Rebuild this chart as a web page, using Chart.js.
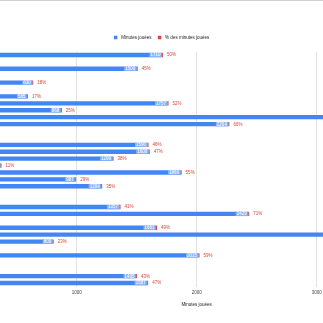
<!DOCTYPE html>
<html><head><meta charset="utf-8">
<script src="https://cdn.jsdelivr.net/npm/chart.js@4/dist/chart.umd.min.js"></script>
<style>
html,body{margin:0;padding:0;background:#fff;overflow:hidden;}
body{width:323px;height:323px;position:relative;}
#topline{position:absolute;left:0;top:0;width:323px;height:1px;background:#d0d0d0;z-index:2;}
#wrap{position:absolute;left:-60px;top:0;width:520px;height:323px;}
</style></head><body>
<div id="topline"></div>
<div id="wrap"><canvas id="c" width="520" height="323"></canvas></div>
<script>
// ---- data ----
const categories = [
  'Joueur 1','Joueur 2','Joueur 3','Joueur 4','Joueur 5','Joueur 6','Joueur 7','Joueur 8',
  'Joueur 9','Joueur 10','Joueur 11','Joueur 12','Joueur 13','Joueur 14','Joueur 15','Joueur 16',
  'Joueur 17','Joueur 18','Joueur 19','Joueur 20','Joueur 21','Joueur 22','Joueur 23','Joueur 24',
  'Joueur 25','Joueur 26','Joueur 27','Joueur 28','Joueur 29','Joueur 30','Joueur 31','Joueur 32',
  'Joueur 33','Joueur 34'
];
const minutes = [1710, null, 1500, null, 630, null, 585, 1757, 868, 3330, 2264, null, null, 1590, 1600, 1299,
  365, 1866, 987, 1204, null, null, 1357, 2429, null, 1661, 3300, 800, null, 2015, null, null, 1495, 1587];
const percent = [0.50, null, 0.45, null, 0.18, null, 0.17, 0.52, 0.25, 0.97, 0.66, null, null, 0.46, 0.47, 0.38,
  0.11, 0.55, 0.29, 0.35, null, null, 0.41, 0.71, null, 0.49, 0.96, 0.23, null, 0.59, null, null, 0.43, 0.47];
const xTicks = [0, 1000, 2000, 3000, 4000];
const seriesNames = ['Minutes jouées', '% des minutes jouées'];
const axisTitle = 'Minutes jouées';

// ---- style ----
const FONT = '"Liberation Sans", Arial, sans-serif';
const FS = 4.5;
const BLUE = '#4285f4';
const RED = '#db4437';
const CANVAS_OFFSET = 60;
const VIEW_W = 323;

const labelPlugin = {
  id: 'barLabels',
  afterDatasetsDraw(chart) {
    const ctx = chart.ctx;
    ctx.save();
    ctx.font = FS + 'px ' + FONT;
    ctx.textBaseline = 'middle';
    const m0 = chart.getDatasetMeta(0);
    m0.data.forEach((el, i) => {
      const v = minutes[i];
      if (v == null) return;
      const txt = String(v);
      const w = ctx.measureText(txt).width + 2;
      const barW = el.x - el.base;
      if (barW < w + 2) return;
      const h = el.height;
      ctx.fillStyle = '#8fb4f7';
      ctx.fillRect(el.x - w - 0.5, el.y - h / 2, w, h);
      ctx.fillStyle = '#ffffff';
      ctx.textAlign = 'right';
      ctx.fillText(txt, el.x - 1.5, el.y + 0.2);
    });
    const m1 = chart.getDatasetMeta(1);
    m1.data.forEach((el, i) => {
      const v = percent[i];
      if (v == null) return;
      ctx.fillStyle = RED;
      ctx.textAlign = 'left';
      ctx.fillText(Math.round(v * 100) + '%', el.x + 4, el.y + 0.2);
    });
    ctx.restore();
  }
};

const legendPlugin = {
  id: 'gLegend',
  afterDraw(chart) {
    const ctx = chart.ctx;
    ctx.save();
    ctx.font = FS + 'px ' + FONT;
    ctx.textBaseline = 'middle';
    ctx.textAlign = 'left';
    const sq = 3.5, g1 = 3.8, g2 = 6.4;
    const items = chart.data.datasets.map(d => ({ label: d.label, color: d.backgroundColor }));
    let total = 0;
    items.forEach((it, i) => {
      total += sq + g1 + ctx.measureText(it.label).width + (i < items.length - 1 ? g2 : 0);
    });
    let x = VIEW_W / 2 + CANVAS_OFFSET - total / 2;
    const y = 37.5;
    items.forEach(it => {
      ctx.fillStyle = it.color;
      ctx.fillRect(x, y - sq / 2, sq, sq);
      x += sq + g1;
      ctx.fillStyle = '#222';
      ctx.fillText(it.label, x, y);
      x += ctx.measureText(it.label).width + g2;
    });
    ctx.restore();
  }
};

new Chart(document.getElementById('c'), {
  type: 'bar',
  data: {
    labels: categories,
    datasets: [
      { label: seriesNames[0], data: minutes, backgroundColor: BLUE, stack: 's',
        categoryPercentage: 1, barPercentage: 0.63 },
      { label: seriesNames[1], data: percent, backgroundColor: RED, stack: 's',
        categoryPercentage: 1, barPercentage: 0.63, minBarLength: 1 }
    ]
  },
  options: {
    indexAxis: 'y',
    responsive: false,
    animation: false,
    layout: { padding: { left: 16.7, right: 23.3, top: 51.5, bottom: 15.8 } },
    plugins: { legend: { display: false }, tooltip: { enabled: false } },
    scales: {
      x: {
        stacked: true, min: 0, max: 4000,
        afterBuildTicks: axis => { axis.ticks = xTicks.map(v => ({ value: v })); },
        ticks: { font: { family: FONT, size: FS }, color: '#444', padding: 3.8, maxRotation: 0, autoSkip: false,
          callback: v => String(v) },
        grid: { color: '#e3e3e3', drawTicks: false },
        border: { display: false },
        title: { display: true, text: axisTitle, font: { family: FONT, size: FS }, color: '#222',
          padding: { top: 2.3, bottom: 0 } }
      },
      y: { stacked: true, display: false }
    }
  },
  plugins: [labelPlugin, legendPlugin]
});
</script>
</body></html>
